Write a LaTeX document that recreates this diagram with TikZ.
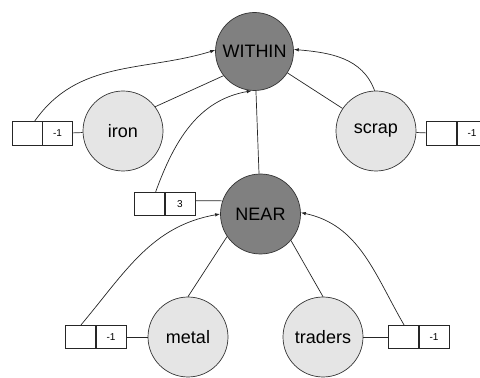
\documentclass[tikz,border=0pt]{standalone}
\usepackage{fontspec}
\setmainfont{Liberation Sans}
\usetikzlibrary{arrows.meta}
\tikzset{opnode/.style={shape=circle, draw = black!80, line width=0.7pt, fill=gray, minimum size=78pt, inner sep=0pt, font=\fontsize{18}{20}\selectfont}}
\tikzset{word/.style={shape=circle, draw = black!80, line width=0.7pt, fill=black!10, minimum size=80pt, inner sep=0pt, font=\fontsize{18}{20}\selectfont}}
\tikzset{cell/.style={shape=rectangle, draw = black!85, line width=0.7pt, minimum width=30.5pt, minimum height=23.5pt, inner sep=0pt, font=\fontsize{10}{12}\selectfont}}
\tikzset{every edge/.style={draw = black!85, line width=0.7pt}}
\tikzset{link/.style={-{Latex[length=5pt,width=3.5pt]}}}

\begin{document}
\begin{tikzpicture}[x=1pt, y=1pt, node distance = 30pt]
  \useasboundingbox (0,0) rectangle (480,378);
  \clip (0,0) rectangle (480,378);

  \node (WITHIN) [opnode] at (254.5,326.5) {WITHIN};
  \node (iron) [word] at (123,247) {iron};
  \node (scrap) [word] at (376,247) {scrap};
  \node (NEAR) [opnode, minimum size=80pt] at (260.5,164) {NEAR};
  \node (metal) [word] at (188,41) {metal};
  \node (traders) [word] at (323,41) {traders};

  \node (ironR) [cell, node distance = 65.5pt, left of = iron, yshift=-2.5pt] {-1};
  \node (ironL) [cell, left of = ironR] {};
  \node (scrapL) [cell, node distance = 66pt, right of = scrap, yshift=-2.5pt] {};
  \node (scrapR) [cell, right of = scrapL] {-1};
  \node (NEARR) [cell, node distance = 80.5pt, left of = NEAR, yshift=10pt] {3};
  \node (NEARL) [cell, left of = NEARR] {};
  \node (metalR) [cell, node distance = 77pt, left of = metal] {-1};
  \node (metalL) [cell, left of = metalR] {};
  \node (tradersL) [cell, node distance = 81pt, right of = traders] {};
  \node (tradersR) [cell, right of = tradersL] {-1};

  \path (iron.37) edge (WITHIN.218);
  \path (scrap.146) edge (WITHIN.-33);
  \path (NEAR) edge (WITHIN);

  \path (NEAR.214) edge (metal.90);
  \path (NEAR.-41) edge (traders.90);

  \path (ironR) edge (iron);
  \path (scrap) edge (scrapL);
  \path (NEARR.12) edge (NEAR.161);
  \path (metalR) edge (metal);
  \path (traders) edge (tradersL);

  \path (ironL.60) edge[link, out=55, in=197] (WITHIN.178);
  \path (scrap.92) edge[link, out=110, in=-5] (WITHIN.3);
  \path (NEARL.65) edge[link, out=70, in=190] (WITHIN.-94);
  \path (metalL.north) edge[link, out=50, in=190] (NEAR.180);
  \path (tradersL.north) edge[link, out=120, in=-12] (NEAR.2);
\end{tikzpicture}
\end{document}
